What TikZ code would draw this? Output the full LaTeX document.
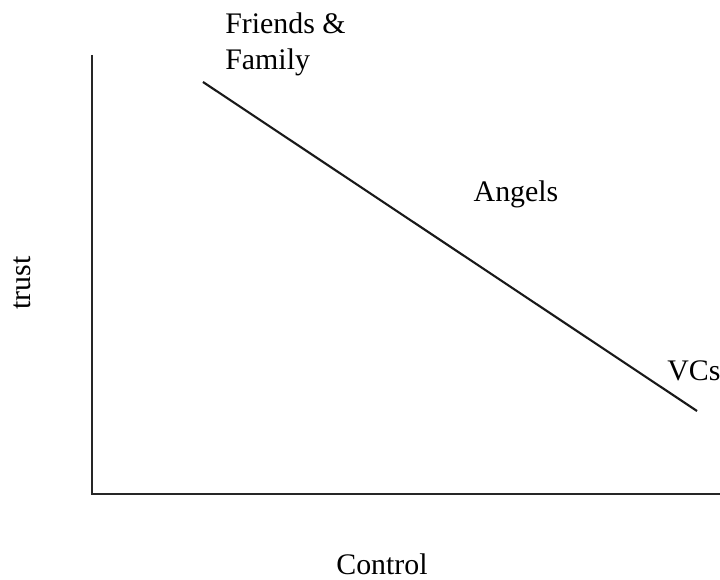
\documentclass[tikz,border=0pt]{standalone}
\usepackage{fontspec}
\setmainfont{Liberation Serif}
\usetikzlibrary{positioning}

\begin{document}
\begin{tikzpicture}[x = 0.02cm, y = -0.02cm]
\useasboundingbox (0,0) rectangle (720,580);
\begin{scope}[every node/.style={font=\fontsize{17}{21}\selectfont, inner sep=0pt}]
    \node[align=left, anchor=north west] (ff) at (225,12) {Friends \&\\Family};
    \node (angels) at (516,194) {Angels};
    \node[anchor=west] (vcs) at (667,371) {VCs};
    \node[rotate=90] (trust) at (22,283) {trust};
    \node (control) at (382,564) {Control};
\end{scope}

\coordinate (ytop) at (92,55);
\coordinate (orig) at (92,494);
\coordinate (xend) at (720,494);
\coordinate (hi) at (203,82);
\coordinate (lo) at (697,411);

\draw[-, line width=1.3pt, black!85] (ytop) -- (orig) -- (xend);
\draw[-, line width=1.2pt, black!90] (hi) -- (lo);
\end{tikzpicture}
\end{document}
